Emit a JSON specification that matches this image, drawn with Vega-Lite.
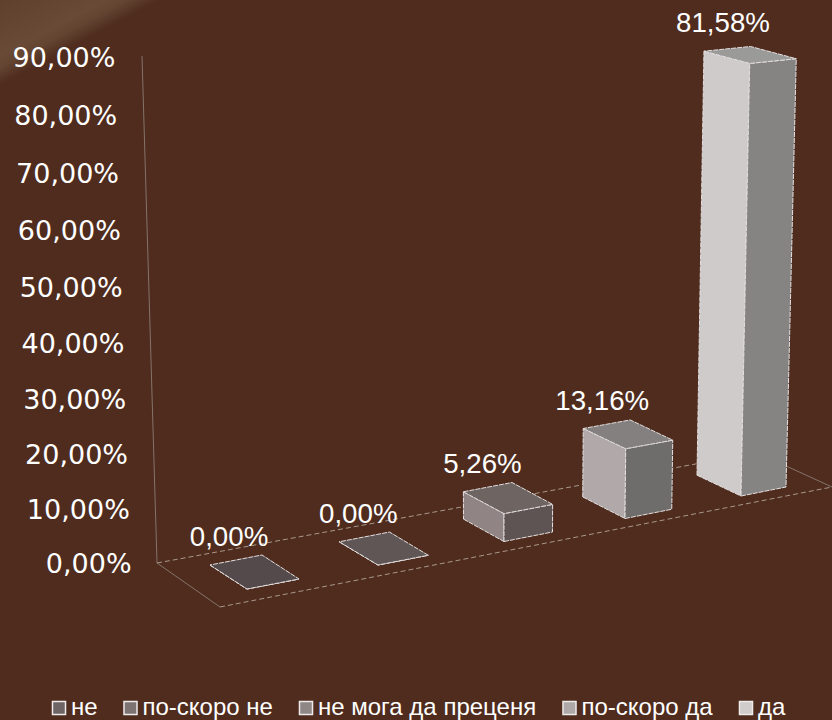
{
"$schema":"https://vega.github.io/schema/vega-lite/v6.json",
"width":832,"height":720,"padding":0,"autosize":{"type":"none"},
"background":"#4f2c1e",
"config":{"view":{"stroke":null}},
"datasets":{
"bars":[
{"answer":"не","value":0,"order":0},
{"answer":"по-скоро не","value":0,"order":1},
{"answer":"не мога да преценя","value":5.26,"order":2},
{"answer":"по-скоро да","value":13.16,"order":3},
{"answer":"да","value":81.58,"order":4}],
"ticks":[{"tick":0},{"tick":10},{"tick":20},{"tick":30},{"tick":40},{"tick":50},{"tick":60},{"tick":70},{"tick":80},{"tick":90}]
},
"encoding":{
"x":{"field":"X","type":"quantitative","axis":null,"scale":{"domain":[0,8.32],"nice":false,"zero":false}},
"y":{"field":"Y","type":"quantitative","axis":null,"scale":{"domain":[-29.714,107.429],"nice":false,"zero":false}}
},
"layer":[
{"data":{"values":[{"n":0,"X":0,"Y":107.429},{"n":1,"X":1.6,"Y":107.429},{"n":2,"X":0,"Y":91.2},{"n":3,"X":0,"Y":107.429}]},
 "mark":{"type":"line","strokeWidth":0,"fill":{"gradient":"linear","x1":0,"y1":0,"x2":1,"y2":1,"stops":[{"offset":0,"color":"#5e402d"},{"offset":0.33,"color":"#684a36"},{"offset":0.4,"color":"#624431"},{"offset":0.5,"color":"#4f2c1e"}]}},
 "encoding":{"order":{"field":"n"}}},
{"data":{"values":[{"n":0,"X":1.42,"Y":96.76},{"n":1,"X":1.57,"Y":0.19},{"n":2,"X":2.2,"Y":-8.19}]},
 "mark":{"type":"line","stroke":"#85736a","strokeWidth":1},
 "encoding":{"order":{"field":"n"}}},
{"data":{"values":[{"n":0,"X":1.57,"Y":0.19},{"n":1,"X":7.57,"Y":21.2}]},
 "mark":{"type":"line","stroke":"#a8988c","strokeWidth":1,"strokeDash":[5,3]},
 "encoding":{"order":{"field":"n"}}},
{"data":{"values":[{"n":0,"X":2.2,"Y":-8.19},{"n":1,"X":8.32,"Y":14.67}]},
 "mark":{"type":"line","stroke":"#a8988c","strokeWidth":1,"strokeDash":[5,3]},
 "encoding":{"order":{"field":"n"}}},
{"data":{"values":[{"n":0,"X":7.57,"Y":21.2},{"n":1,"X":8.32,"Y":14.67}]},
 "mark":{"type":"line","stroke":"#85736a","strokeWidth":1},
 "encoding":{"order":{"field":"n"}}},
{"data":{"name":"bars"},
 "transform":[
 {"calculate":"[{f:'left',n:0,s:1,t:0,u:0},{f:'left',n:1,s:0,t:0,u:0},{f:'left',n:2,s:0,t:0,u:1},{f:'left',n:3,s:1,t:0,u:1},{f:'left',n:4,s:1,t:0,u:0},{f:'right',n:0,s:0,t:0,u:0},{f:'right',n:1,s:0,t:1,u:0},{f:'right',n:2,s:0,t:1,u:1},{f:'right',n:3,s:0,t:0,u:1},{f:'right',n:4,s:0,t:0,u:0},{f:'top',n:0,s:1,t:0,u:1},{f:'top',n:1,s:0,t:0,u:1},{f:'top',n:2,s:0,t:1,u:1},{f:'top',n:3,s:1,t:1,u:1},{f:'top',n:4,s:1,t:0,u:1}]","as":"c"},
 {"flatten":["c"]},
 {"calculate":"datum.order+datum.c.f","as":"k"},
 {"calculate":"datum.c.n","as":"n"},
 {"calculate":"2.47+1.31*datum.order-0.025*datum.order*(datum.order-1)-datum.c.s*(0.37+0.0175*datum.order)+datum.c.t*(0.52-0.0175*datum.order)","as":"X0"},
 {"calculate":"-4.762+4.571*datum.order-0.0476*datum.order*(datum.order-1)+datum.c.s*(4.571-0.152*datum.order)+datum.c.t*(1.905-0.048*datum.order)","as":"Y0"},
 {"calculate":"datum.c.u*datum.value*(1.01-0.02*datum.c.s-0.01*datum.c.t)","as":"H"},
 {"calculate":"datum.X0+(datum.X0-5.04)*0.000446*datum.H","as":"X"},
 {"calculate":"datum.Y0+datum.H","as":"Y"}
 ],
 "mark":{"type":"line","stroke":"#e4e0e0","strokeWidth":1,"strokeDash":[5,1]},
 "encoding":{
 "order":{"field":"n"},
 "detail":{"field":"k"},
 "fill":{"field":"k","type":"nominal","legend":null,"scale":{
  "domain":["0left","0right","0top","1left","1right","1top","2left","2right","2top","3left","3right","3top","4left","4right","4top"],
  "range":["#544a4b","#544a4b","#544a4b","#5f5655","#5f5655","#5f5655","#918485","#5e5453","#6e6462","#b0a8a9","#6f6d6c","#848080","#cfcbca","#858482","#9a9a98"]}}
 }},
{"data":{"name":"bars"},
 "transform":[
 {"calculate":"2.47+1.31*datum.order-0.025*datum.order*(datum.order-1)-(0.37+0.0175*datum.order)","as":"X0"},
 {"calculate":"-4.762+4.571*datum.order-0.0476*datum.order*(datum.order-1)+(4.571-0.152*datum.order)","as":"Y0"},
 {"calculate":"datum.value*0.99","as":"H"},
 {"calculate":"datum.X0+(datum.X0-5.04)*0.000446*datum.H+0.19","as":"X"},
 {"calculate":"datum.Y0+datum.H+5.1","as":"Y"},
 {"calculate":"replace(format(datum.value,'.2f'),'.',',')+'%'","as":"label"}
 ],
 "mark":{"type":"text","font":"Liberation Sans","fontSize":27.7,"fill":"#ffffff","align":"center","baseline":"middle"},
 "encoding":{"text":{"field":"label"}}},
{"data":{"name":"ticks"},
 "transform":[
 {"calculate":"1.316-0.0018*datum.tick","as":"X"},
 {"calculate":"(5.4*datum.tick+0.00247*datum.tick*datum.tick)/5.25-0.2","as":"Y"},
 {"calculate":"replace(format(datum.tick,'.2f'),'.',',')+'%'","as":"label"}
 ],
 "mark":{"type":"text","font":"DejaVu Sans","fontSize":27,"fill":"#ffffff","align":"right","baseline":"middle"},
 "encoding":{"text":{"field":"label"}}},
{"data":{"name":"bars"},
 "transform":[{"calculate":"2","as":"X"},{"calculate":"0","as":"Y"}],
 "mark":{"type":"point","size":0,"filled":true,"opacity":1},
 "encoding":{"color":{"field":"answer","type":"nominal","scale":{"domain":["не","по-скоро не","не мога да преценя","по-скоро да","да"],"range":["#6e6466","#7d7373","#8f8686","#aea8a9","#cfcccb"]},
  "legend":{"orient":"none","legendX":47,"legendY":696,"direction":"horizontal","columns":5,"title":null,"gridAlign":"none","columnPadding":20.5,"symbolType":"square","symbolSize":170,"symbolStrokeColor":"#eeeaea","symbolStrokeWidth":1.5,"symbolOpacity":1,"labelFont":"Liberation Sans","labelFontSize":24,"labelColor":"#ffffff","labelOffset":0,"labelLimit":400}}}}
]
}
